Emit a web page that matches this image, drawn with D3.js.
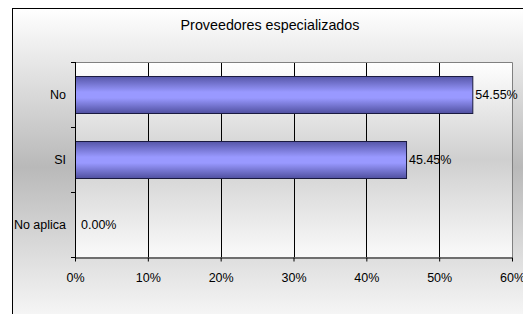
<!DOCTYPE html>
<html>
<head>
<meta charset="utf-8">
<script src="https://cdn.jsdelivr.net/npm/d3@7.9.0/dist/d3.min.js"></script>
<style>
  body { margin: 0; background: #fff; }
  svg { display: block; font-family: Arial, "Liberation Sans", sans-serif; }
</style>
</head>
<body>
<svg id="chart" width="523" height="314"></svg>
<script>
// chart data
const categories = ['No', 'SI', 'No aplica'];
const values = [54.55, 45.45, 0];
const xTicks = [0, 10, 20, 30, 40, 50, 60];
const title = 'Proveedores especializados';

const svg = d3.select('#chart');
const defs = svg.append('defs');

// outer background gradient
const outerGrad = defs.append('linearGradient')
  .attr('id', 'outerGrad').attr('x1', 0).attr('y1', 0).attr('x2', 0).attr('y2', 1);
outerGrad.append('stop').attr('offset', '0%').attr('stop-color', '#ffffff');
outerGrad.append('stop').attr('offset', '48%').attr('stop-color', '#b9b9b9');
outerGrad.append('stop').attr('offset', '100%').attr('stop-color', '#ffffff');

// plot area gradient
const plotGrad = defs.append('linearGradient')
  .attr('id', 'plotGrad').attr('x1', 0).attr('y1', 0).attr('x2', 0).attr('y2', 1);
plotGrad.append('stop').attr('offset', '0%').attr('stop-color', '#ffffff');
plotGrad.append('stop').attr('offset', '50%').attr('stop-color', '#cfcfcf');
plotGrad.append('stop').attr('offset', '100%').attr('stop-color', '#fafafa');

// bar gradient
const barGrad = defs.append('linearGradient')
  .attr('id', 'barGrad').attr('x1', 0).attr('y1', 0).attr('x2', 0).attr('y2', 1);
barGrad.append('stop').attr('offset', '0%').attr('stop-color', '#5656a8');
barGrad.append('stop').attr('offset', '42%').attr('stop-color', '#9999ff');
barGrad.append('stop').attr('offset', '58%').attr('stop-color', '#9999ff');
barGrad.append('stop').attr('offset', '100%').attr('stop-color', '#5050a0');

svg.append('rect')
  .attr('x', 12.5).attr('y', 8.5).attr('width', 530).attr('height', 330)
  .attr('fill', 'url(#outerGrad)').attr('stroke', '#000').attr('stroke-width', 1);

svg.append('text')
  .attr('x', 270).attr('y', 30)
  .attr('text-anchor', 'middle')
  .attr('font-size', 14.3)
  .attr('fill', '#000')
  .text(title);

const margin = { left: 75, right: 512, top: 62, bottom: 257 };

const x = d3.scaleLinear().domain([0, 60]).range([margin.left, margin.right]);
const y = d3.scaleBand().domain(categories).range([margin.top, margin.bottom]).paddingInner(0.43).paddingOuter(0.215);

svg.append('rect')
  .attr('x', margin.left).attr('y', margin.top)
  .attr('width', margin.right - margin.left).attr('height', margin.bottom - margin.top)
  .attr('fill', 'url(#plotGrad)');

// vertical gridlines
svg.append('g')
  .selectAll('line')
  .data(xTicks.slice(1, -1))
  .join('line')
  .attr('x1', d => Math.round(x(d)) + 0.5).attr('x2', d => Math.round(x(d)) + 0.5)
  .attr('y1', margin.top).attr('y2', margin.bottom)
  .attr('stroke', '#000').attr('stroke-width', 1);

// plot border top & right (gray)
svg.append('path')
  .attr('d', `M${margin.left},${margin.top + 0.5}H${margin.right + 0.5}V${margin.bottom}`)
  .attr('fill', 'none').attr('stroke', '#808080').attr('stroke-width', 1);

// bars
svg.append('g')
  .selectAll('rect')
  .data(categories.map((c, i) => ({ c, v: values[i] })).filter(d => d.v > 0))
  .join('rect')
  .attr('x', x(0) + 0.5)
  .attr('y', d => Math.round(y(d.c)) + 0.5)
  .attr('width', d => x(d.v) - x(0))
  .attr('height', Math.round(y.bandwidth()))
  .attr('fill', 'url(#barGrad)')
  .attr('stroke', '#1a1a40').attr('stroke-width', 1);

// value labels
svg.append('g')
  .selectAll('text')
  .data(categories.map((c, i) => ({ c, v: values[i] })))
  .join('text')
  .attr('x', d => x(d.v) + (d.v > 0 ? 3 : 6))
  .attr('y', d => y(d.c) + y.bandwidth() / 2)
  .attr('dy', '0.35em')
  .attr('font-size', 12.5)
  .attr('fill', '#000')
  .text(d => d.v.toFixed(2) + '%');

// x axis
const xAxis = svg.append('g')
  .attr('transform', `translate(0,${margin.bottom + 0.5})`)
  .call(d3.axisBottom(x).tickValues(xTicks).tickFormat(d => d + '%').tickSize(4).tickSizeOuter(0));
xAxis.select('.domain').attr('stroke', '#000');
xAxis.selectAll('.tick line').attr('stroke', '#000');
xAxis.selectAll('.tick text')
  .attr('font-size', 12.5).attr('font-family', 'Arial, "Liberation Sans", sans-serif')
  .attr('fill', '#000').attr('dy', '0').attr('y', 24);

// y axis line
svg.append('line')
  .attr('x1', margin.left + 0.5).attr('x2', margin.left + 0.5)
  .attr('y1', margin.top).attr('y2', margin.bottom + 4)
  .attr('stroke', '#000');

// category boundary ticks
const step = (margin.bottom - margin.top) / categories.length;
svg.append('g')
  .selectAll('line')
  .data(d3.range(categories.length + 1))
  .join('line')
  .attr('x1', margin.left - 4).attr('x2', margin.left)
  .attr('y1', i => Math.round(margin.top + i * step) + 0.5)
  .attr('y2', i => Math.round(margin.top + i * step) + 0.5)
  .attr('stroke', '#000');

// category labels
svg.append('g')
  .selectAll('text')
  .data(categories)
  .join('text')
  .attr('x', 66)
  .attr('y', d => y(d) + y.bandwidth() / 2)
  .attr('dy', '0.35em')
  .attr('text-anchor', 'end')
  .attr('font-size', 12.5)
  .attr('fill', '#000')
  .text(d => d);
</script>
</body>
</html>
